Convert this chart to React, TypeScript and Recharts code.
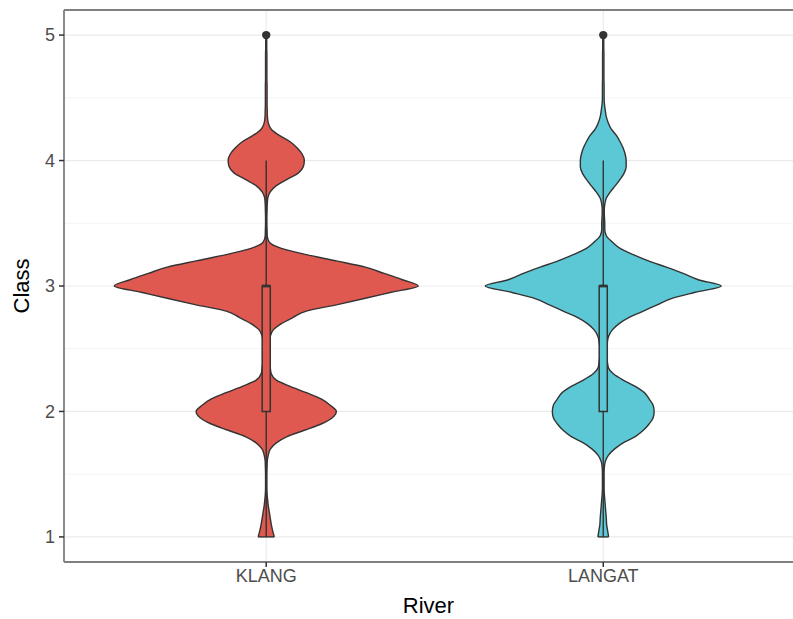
import {
  ComposedChart,
  Area,
  XAxis,
  YAxis,
  CartesianGrid,
  ReferenceLine,
  ReferenceArea,
  ReferenceDot,
} from "recharts";

const rivers = ["KLANG", "LANGAT"];
const riverColors = ["#E05950", "#5CC8D5"];

// Class levels at which the violin half-widths were read
const classLevels = [
  1.0, 1.05, 1.1, 1.15, 1.2, 1.25, 1.3, 1.35, 1.4, 1.45,
  1.5, 1.55, 1.6, 1.65, 1.7, 1.75, 1.8, 1.85, 1.9, 1.95,
  2.0, 2.05, 2.1, 2.15, 2.2, 2.25, 2.3, 2.35, 2.4, 2.45,
  2.5, 2.55, 2.6, 2.65, 2.7, 2.75, 2.8, 2.85, 2.9, 2.95,
  3.0, 3.05, 3.1, 3.15, 3.2, 3.25, 3.3, 3.35, 3.4, 3.45,
  3.5, 3.55, 3.6, 3.65, 3.7, 3.75, 3.8, 3.85, 3.9, 3.95,
  4.0, 4.05, 4.1, 4.15, 4.2, 4.25, 4.3, 4.35, 4.4, 4.45,
  4.5, 4.55, 4.6, 4.65, 4.7, 4.75, 4.8, 4.85, 4.9, 4.95,
  5.0,
];

// half-width of each violin (in category units) at every class level
const klangWidth = [
  0.024, 0.019, 0.015, 0.012, 0.009, 0.006, 0.004, 0.0025, 0.002, 0.002,
  0.002, 0.0025, 0.003, 0.006, 0.012, 0.03, 0.062, 0.113, 0.163, 0.196,
  0.208, 0.19, 0.163, 0.119, 0.071, 0.03, 0.015, 0.012, 0.01, 0.009,
  0.009, 0.009, 0.012, 0.021, 0.045, 0.08, 0.119, 0.208, 0.291, 0.371,
  0.451, 0.404, 0.35, 0.294, 0.208, 0.119, 0.045, 0.009, 0.003, 0.0025,
  0.002, 0.002, 0.0025, 0.003, 0.0045, 0.012, 0.03, 0.062, 0.095, 0.11,
  0.113, 0.107, 0.092, 0.071, 0.039, 0.015, 0.006, 0.0035, 0.003, 0.0025,
  0.0025, 0.0025, 0.0025, 0.002, 0.002, 0.002, 0.002, 0.002, 0.0015, 0.0015,
  0.001,
];

const langatWidth = [
  0.016, 0.013, 0.01, 0.009, 0.0075, 0.006, 0.0045, 0.003, 0.0025, 0.0025,
  0.0025, 0.003, 0.006, 0.015, 0.033, 0.059, 0.095, 0.119, 0.136, 0.148,
  0.151, 0.148, 0.136, 0.122, 0.095, 0.059, 0.03, 0.015, 0.012, 0.01,
  0.01, 0.012, 0.016, 0.027, 0.047, 0.077, 0.119, 0.16, 0.202, 0.273,
  0.35, 0.282, 0.237, 0.187, 0.134, 0.089, 0.05, 0.027, 0.009, 0.0045,
  0.0045, 0.0035, 0.003, 0.0045, 0.009, 0.021, 0.036, 0.05, 0.062, 0.068,
  0.068, 0.065, 0.059, 0.05, 0.039, 0.024, 0.015, 0.009, 0.006, 0.0035,
  0.0025, 0.0025, 0.0025, 0.002, 0.002, 0.002, 0.002, 0.002, 0.0015, 0.0015,
  0.001,
];

// boxplot statistics per river
const boxQ1 = [2, 2];
const boxMedian = [3, 3];
const boxQ3 = [3, 3];
const whiskerLow = [1, 1];
const whiskerHigh = [4, 4];
const outliers = [[5], [5]];

const riverTicks = [1, 2];
const classTicks = [1, 2, 3, 4, 5];
const minorTicks = [1.5, 2.5, 3.5, 4.5];

const FONT = "'Liberation Sans', Arial, sans-serif";
const OUTLINE = "#333333";
const BORDER = "#7F7F7F";
const BOX_HALF = 0.012;
// the panel runs past the right edge of the picture
const X_DOMAIN = [0.4, 2.563];

const widths = [klangWidth, langatWidth];

const table = classLevels.map((y, i) => ({
  y,
  klang: [1 - klangWidth[i], 1 + klangWidth[i]],
  langat: [2 - langatWidth[i], 2 + langatWidth[i]],
}));

export default function App() {
  return (
    <div
      style={{
        position: "fixed",
        left: 0,
        top: 0,
        width: 793,
        height: 619,
        overflow: "hidden",
        background: "#fff",
      }}
    >
      <style>{"html, body { margin: 0; overflow: hidden; }"}</style>
      <ComposedChart
        width={793}
        height={619}
        data={table}
        layout="vertical"
        margin={{ top: 10, right: 0, bottom: 0, left: 0 }}
      >
        <CartesianGrid
          horizontalValues={minorTicks}
          vertical={false}
          stroke="#F4F4F4"
          strokeWidth={1}
        />
        <CartesianGrid
          horizontalValues={classTicks}
          verticalValues={riverTicks}
          stroke="#EBEBEB"
          strokeWidth={1.2}
        />
        <XAxis
          type="number"
          domain={X_DOMAIN}
          ticks={riverTicks}
          allowDataOverflow
          tickFormatter={(v) => rivers[v - 1]}
          axisLine={false}
          tickLine={{ stroke: OUTLINE, strokeWidth: 1.5 }}
          tickSize={5}
          height={57}
          tick={{ fill: "#4D4D4D", fontSize: 18, fontFamily: FONT }}
          label={{
            value: "River",
            position: "insideBottom",
            offset: 6,
            style: { fill: "#000", fontSize: 22, fontFamily: FONT },
          }}
        />
        <YAxis
          type="number"
          dataKey="y"
          domain={[0.8, 5.2]}
          ticks={classTicks}
          reversed
          allowDataOverflow
          axisLine={false}
          tickLine={{ stroke: OUTLINE, strokeWidth: 1.5 }}
          tickSize={5}
          width={64}
          tick={{ fill: "#4D4D4D", fontSize: 18, fontFamily: FONT, dx: -2 }}
          label={{
            value: "Class",
            angle: -90,
            position: "insideLeft",
            offset: 21,
            style: { fill: "#000", fontSize: 22, fontFamily: FONT, textAnchor: "middle" },
          }}
        />
        <Area
          type="monotone"
          dataKey={(d) => d.klang}
          fill={riverColors[0]}
          fillOpacity={1}
          stroke={OUTLINE}
          strokeWidth={1.4}
          dot={false}
          activeDot={false}
          isAnimationActive={false}
        />
        <Area
          type="monotone"
          dataKey={(d) => d.langat}
          fill={riverColors[1]}
          fillOpacity={1}
          stroke={OUTLINE}
          strokeWidth={1.4}
          dot={false}
          activeDot={false}
          isAnimationActive={false}
        />
        {rivers.map((r, i) => {
          const c = i + 1;
          return [
            <ReferenceLine
              key={`base-${r}`}
              segment={[
                { x: c - widths[i][0], y: classLevels[0] },
                { x: c + widths[i][0], y: classLevels[0] },
              ]}
              stroke={OUTLINE}
              strokeWidth={1.4}
            />,
            <ReferenceLine
              key={`wl-${r}`}
              segment={[
                { x: c, y: whiskerLow[i] },
                { x: c, y: boxQ1[i] },
              ]}
              stroke={OUTLINE}
              strokeWidth={1.4}
            />,
            <ReferenceLine
              key={`wh-${r}`}
              segment={[
                { x: c, y: boxQ3[i] },
                { x: c, y: whiskerHigh[i] },
              ]}
              stroke={OUTLINE}
              strokeWidth={1.4}
            />,
            <ReferenceArea
              key={`box-${r}`}
              x1={c - BOX_HALF}
              x2={c + BOX_HALF}
              y1={boxQ1[i]}
              y2={boxQ3[i]}
              fill={riverColors[i]}
              fillOpacity={1}
              stroke={OUTLINE}
              strokeWidth={1.5}
            />,
            <ReferenceLine
              key={`med-${r}`}
              segment={[
                { x: c - BOX_HALF, y: boxMedian[i] },
                { x: c + BOX_HALF, y: boxMedian[i] },
              ]}
              stroke={OUTLINE}
              strokeWidth={2.8}
            />,
            ...outliers[i].map((o) => (
              <ReferenceDot
                key={`out-${r}-${o}`}
                x={c}
                y={o}
                r={4.2}
                fill={OUTLINE}
                stroke="none"
              />
            )),
          ];
        })}
        <ReferenceLine y={5.2} stroke={BORDER} strokeWidth={1.8} />
        <ReferenceLine y={0.8} stroke={BORDER} strokeWidth={1.8} />
        <ReferenceLine x={0.4} stroke={BORDER} strokeWidth={1.8} />
      </ComposedChart>
    </div>
  );
}
